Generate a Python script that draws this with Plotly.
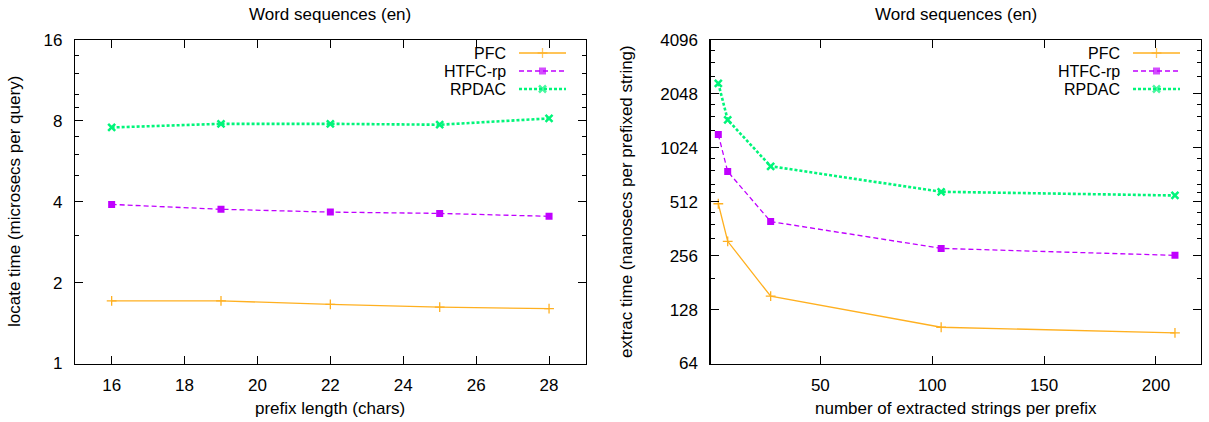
import math
import plotly.graph_objects as go

# ---------------- data ----------------
prefix_len = [16, 19, 22, 25, 28]
locate_pfc = [1.71, 1.71, 1.66, 1.62, 1.60]
locate_htfc = [3.91, 3.75, 3.66, 3.62, 3.53]
locate_rpdac = [7.56, 7.80, 7.80, 7.74, 8.17]

n_extracted = [4.4, 8.6, 27.8, 104, 208.5]
extract_pfc = [499, 308, 152, 102, 95]
extract_htfc = [1215, 755, 397, 281, 257]
extract_rpdac = [2346, 1467, 808, 582, 555]

series_names = ["PFC", "HTFC-rp", "RPDAC"]
left_title = "Word sequences (en)"
right_title = "Word sequences (en)"
left_xlabel = "prefix length (chars)"
left_ylabel = "locate time (microsecs per query)"
right_xlabel = "number of extracted strings per prefix"
right_ylabel = "extrac time (nanosecs per prefixed string)"

left_xticks = [16, 18, 20, 22, 24, 26, 28]
left_yticks = [1, 2, 4, 8, 16]
left_yminor = [3, 5, 6, 7, 9, 10, 12, 14]
right_xticks = [50, 100, 150, 200]
right_yticks = [64, 128, 256, 512, 1024, 2048, 4096]
right_yminor = [192, 320, 384, 448, 576, 640, 768, 896, 1280, 1536, 1792, 2560, 3072, 3584]

# ---------------- style ----------------
W, H = 1209, 422
FONT = "Liberation Sans, Arial, sans-serif"
FS = 17
FS_LEG = 16
C_PFC = "#ffb020"
C_HTFC = "#c000ff"
C_RPDAC = "#00f57a"

line_styles = [
    dict(color=C_PFC, width=1.3, dash="solid"),
    dict(color=C_HTFC, width=1.3, dash="5px,3px"),
    dict(color=C_RPDAC, width=2.6, dash="3px,2px"),
]
marker_styles = [
    dict(symbol="cross-thin", size=7, color=C_PFC, line=dict(color=C_PFC, width=1.3)),
    dict(symbol="square", size=7, color=C_HTFC, line=dict(width=0)),
    dict(symbol="x-thin", size=7, color=C_RPDAC, line=dict(color=C_RPDAC, width=2.5)),
]

def fx(p):
    return p / W

def fy(p):
    return 1 - p / H

fig = go.Figure()

left_vals = [locate_pfc, locate_htfc, locate_rpdac]
right_vals = [extract_pfc, extract_htfc, extract_rpdac]
for i, name in enumerate(series_names):
    fig.add_trace(go.Scatter(x=prefix_len, y=left_vals[i], mode="lines+markers", name=name,
                             line=line_styles[i], marker=marker_styles[i], showlegend=False,
                             xaxis="x", yaxis="y"))
    fig.add_trace(go.Scatter(x=n_extracted, y=right_vals[i], mode="lines+markers", name=name,
                             line=line_styles[i], marker=marker_styles[i], showlegend=False,
                             xaxis="x2", yaxis="y2"))

# ---------------- manual legends (gnuplot style: text then sample) ----------------
legend_rows = [53, 71, 89]
legend_boxes = [(508, 519, 566), (1122, 1133, 1180)]
annotations = []
for (text_r, l0, l1) in legend_boxes:
    for i, name in enumerate(series_names):
        yy = legend_rows[i]
        mk = dict(marker_styles[i])
        mk["size"] = [0, marker_styles[i]["size"], 0]
        fig.add_trace(go.Scatter(x=[l0, (l0 + l1) / 2, l1], y=[yy, yy, yy], mode="lines+markers",
                                 line=line_styles[i], marker=mk, showlegend=False,
                                 xaxis="x3", yaxis="y3", hoverinfo="skip"))
        annotations.append(dict(text=name, x=fx(text_r), y=fy(yy), xref="paper", yref="paper",
                                xanchor="right", yanchor="middle", showarrow=False,
                                font=dict(family=FONT, size=FS_LEG, color="black")))

# titles and axis labels
def ann(text, x, y, angle=0):
    annotations.append(dict(text=text, x=fx(x), y=fy(y), xref="paper", yref="paper",
                            xanchor="center", yanchor="middle", showarrow=False, textangle=angle,
                            font=dict(family=FONT, size=FS, color="black")))

ann(left_title, 330.4, 14)
ann(right_title, 955.7, 14)
ann(left_xlabel, 330.4, 408)
ann(right_xlabel, 955.7, 408)
ann(left_ylabel, 15, 202, -90)
ann(right_ylabel, 627, 202, -90)

common = dict(showline=True, linecolor="black", linewidth=1.3, mirror="ticks", ticks="inside",
              ticklen=8, tickwidth=1, tickcolor="black", showgrid=False, zeroline=False,
              automargin=False,
              tickfont=dict(family=FONT, size=FS, color="black"), fixedrange=True)

top, bottom = 40, 363.5
fig.update_layout(
    template="none",
    width=W, height=H, autosize=False,
    margin=dict(l=0, r=0, t=0, b=0, pad=0),
    paper_bgcolor="white", plot_bgcolor="rgba(0,0,0,0)",
    font=dict(family=FONT, size=FS, color="black"),
    showlegend=False,
    annotations=annotations,
    xaxis=dict(domain=[fx(75.2), fx(585.5)], range=[15, 29], tickmode="array",
               tickvals=left_xticks, anchor="y", ticklabelstandoff=6, **common),
    yaxis=dict(domain=[fy(bottom), fy(top)], type="log", range=[0, math.log10(16)],
               tickmode="array", tickvals=left_yticks, ticktext=[str(v) for v in left_yticks],
               minor=dict(tickmode="array", tickvals=left_yminor, ticks="inside", ticklen=4,
                          tickcolor="black", showgrid=False),
               anchor="x", ticklabelstandoff=8, **common),
    xaxis2=dict(domain=[fx(710.7), fx(1200.7)], range=[1, 220], tickmode="array",
                tickvals=right_xticks, anchor="y2", ticklabelstandoff=6, **common),
    yaxis2=dict(domain=[fy(bottom), fy(top)], type="log",
                range=[math.log10(64), math.log10(4096)],
                tickmode="array", tickvals=right_yticks, ticktext=[str(v) for v in right_yticks],
                minor=dict(tickmode="array", tickvals=right_yminor, ticks="inside", ticklen=4,
                           tickcolor="black", showgrid=False),
                anchor="x2", ticklabelstandoff=8, **common),
    xaxis3=dict(domain=[0, 1], range=[0, W], visible=False, fixedrange=True, anchor="y3",
                automargin=False),
    yaxis3=dict(domain=[0, 1], range=[H, 0], visible=False, fixedrange=True, anchor="x3",
                automargin=False),
)

fig.write_html("out.html", config={"displayModeBar": False, "staticPlot": True},
               post_script="document.body.style.margin='0';document.body.style.overflow='hidden';")
